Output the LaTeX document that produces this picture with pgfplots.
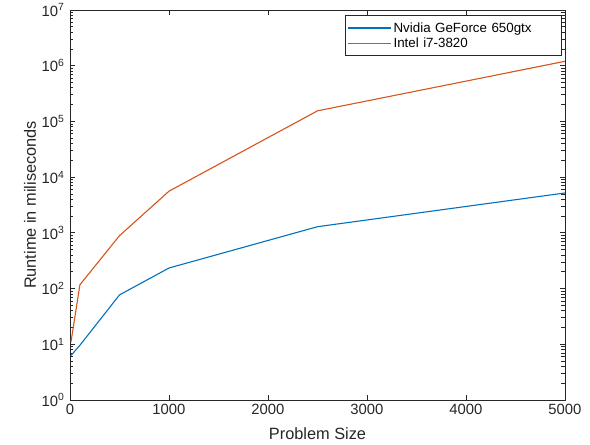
\documentclass[border=0pt]{standalone}
\usepackage{fontspec}
\setmainfont{Liberation Sans}
\usepackage{pgfplots}
\pgfplotsset{compat=1.18}
\definecolor{mblue}{rgb}{0,0.447,0.741}
\definecolor{morange}{rgb}{0.85,0.325,0.098}
\definecolor{axgray}{rgb}{0.15,0.15,0.15}
\begin{document}
\begin{tikzpicture}[x=1bp,y=1bp]
\path[use as bounding box] (-70bp,-45bp) rectangle (520bp,400bp);
\begin{axis}[
  at={(0,0)}, anchor=south west,
  scale only axis, width=495bp, height=390bp,
  ymode=log, log basis y=10, xmin=0, xmax=5000, ymin=1, ymax=1e7,
  xtick={0,1000,2000,3000,4000,5000},
  xticklabels={0,1000,2000,3000,4000,5000},
  yticklabel={10\textsuperscript{\pgfmathparse{int(round(\tick))}\pgfmathresult}},
  /pgf/number format/assume math mode=true,
  ticklabel style={font=\fontsize{14.9}{16}\selectfont, text=axgray},
  xticklabel style={yshift=-1bp},
  yticklabel style={xshift=-2bp},
  tick align=inside, major tick length=5bp, minor tick length=3.5bp,
  axis line style={axgray, line width=0.8bp},
  tick style={color=axgray, line width=0.8bp},
  xlabel={Problem Size}, ylabel={Runtime in miliseconds},
  label style={font=\fontsize{16.4}{18}\selectfont, text=axgray},
  xlabel style={at={(axis description cs:0.5,0)}, anchor=center, yshift=-34bp},
  ylabel style={at={(axis description cs:-0.0808,0.5)}, anchor=center},
  legend style={at={(1,1)}, anchor=north east, xshift=-3bp, yshift=-5bp,
    font=\fontsize{13.4}{15}\selectfont, draw=axgray, line width=0.8bp,
    inner xsep=2bp, inner ysep=5bp, row sep=0bp, column sep=0bp,
    nodes={inner sep=2bp},
    /tikz/every even column/.append style={text width=164bp}},
  legend cell align=left,
  legend image code/.code={\draw[#1] (10bp,0bp) -- (53bp,0bp);},
]
\addplot[draw=mblue, line width=1.1bp] coordinates {
 (10,6.3) (100,9.6) (500,77) (1000,234) (2500,1290) (5000,5200)};
\addlegendentry{Nvidia GeForce 650gtx}
\addplot[draw=morange, line width=1.1bp] coordinates {
 (10,11) (100,117) (500,890) (1000,5600) (2500,155000) (5000,1200000)};
\addlegendentry{Intel i7-3820}
\end{axis}
\end{tikzpicture}
\end{document}
